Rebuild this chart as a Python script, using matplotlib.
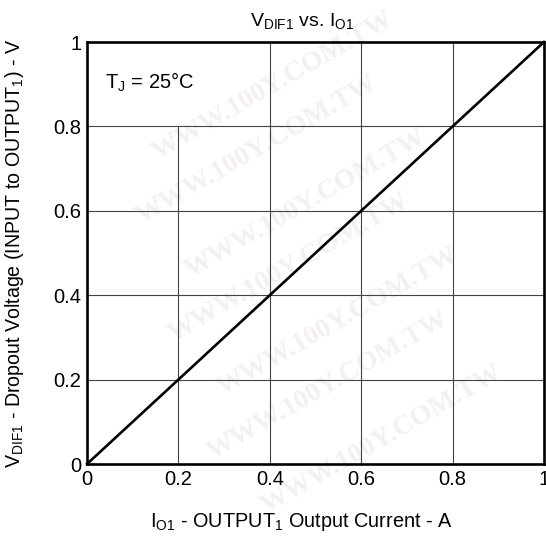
import matplotlib.pyplot as plt

plt.rcParams['font.family'] = ['Liberation Sans', 'DejaVu Sans']
plt.rcParams['mathtext.fontset'] = 'custom'
plt.rcParams['mathtext.rm'] = 'Liberation Sans'

# dropout voltage vs output current (straight line)
current = [0.0, 1.0]
v_dif = [0.0, 1.0]
x_ticks = [0, 0.2, 0.4, 0.6, 0.8, 1]
y_ticks = [0, 0.2, 0.4, 0.6, 0.8, 1]
x_labels = ['0', '0.2', '0.4', '0.6', '0.8', '1']
y_labels = ['0', '0.2', '0.4', '0.6', '0.8', '1']

fig = plt.figure(figsize=(5.46, 5.36), dpi=100)

# faint watermark in a background axes
bg = fig.add_axes([0, 0, 1, 1], zorder=-1)
bg.axis('off')
for (wx, wy) in [(0.50, 0.84), (0.47, 0.72), (0.56, 0.62), (0.53, 0.50),
                 (0.62, 0.40), (0.60, 0.28), (0.70, 0.18)]:
    bg.text(wx, wy, 'WWW.100Y.COM.TW', rotation=30, fontsize=20, family='Liberation Serif',
            weight='bold', color='#f4f0f0', ha='center', va='center')

ax = fig.add_axes([87 / 546, 72 / 536, 457 / 546, 422 / 536])
ax.patch.set_alpha(0)

# grid (the 0.2 line stops under the annotation)
for gx in [0.4, 0.6, 0.8]:
    ax.axvline(gx, color='#444444', lw=0.8, zorder=1)
ax.axvline(0.2, ymax=0.8, color='#444444', lw=0.8, zorder=1)
for gy in [0.2, 0.4, 0.6, 0.8]:
    ax.axhline(gy, color='#444444', lw=0.8, zorder=1)

ax.plot(current, v_dif, color='black', lw=1.9, zorder=3, clip_on=False)

ax.set_xlim(0, 1)
ax.set_ylim(0, 1)
ax.set_xticks(x_ticks)
ax.set_xticklabels(x_labels)
ax.set_yticks(y_ticks)
ax.set_yticklabels(y_labels)
ax.tick_params(length=0, labelsize=14.5, pad=4)
for s in ax.spines.values():
    s.set_linewidth(1.9)

ax.text(0.04, 0.89, r'T$_\mathregular{J}$ = 25°C', fontsize=14.5)

fig.text(302 / 546, 1 - 22 / 536, r'V$_\mathregular{DIF1}$ vs. I$_\mathregular{O1}$',
         ha='center', va='center', fontsize=14)
fig.text(301 / 546, 1 - 522 / 536, r'I$_\mathregular{O1}$ - OUTPUT$_\mathregular{1}$ Output Current - A',
         ha='center', va='center', fontsize=14.3)
fig.text(15 / 546, 1 - 253 / 536,
         r'V$_\mathregular{DIF1}$ - Dropout Voltage (INPUT to OUTPUT$_\mathregular{1}$) - V',
         ha='center', va='center', rotation=90, fontsize=14.1)

fig.savefig('out.png', dpi=100)
